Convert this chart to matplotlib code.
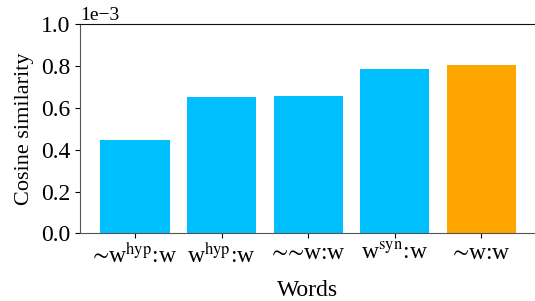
import matplotlib
matplotlib.use('Agg')
import matplotlib.pyplot as plt
from matplotlib.ticker import MultipleLocator

# 数据
words = ['$∼$w$^{\\mathrm{hyp}}$:w', 'w$^{\\mathrm{hyp}}$:w', '$∼∼$w:w',
         'w$^{\\mathrm{syn}}$:w', '$∼$w:w']
similarity = [0.446e-3, 0.652e-3, 0.657e-3, 0.786e-3, 0.804e-3]
colors = ['#00BFFF', '#00BFFF', '#00BFFF', '#00BFFF', '#FFA500']

plt.rcParams['font.family'] = ['Liberation Serif', 'STIXGeneral', 'DejaVu Serif']
plt.rcParams['mathtext.fontset'] = 'stix'

fig = plt.figure(figsize=(5.35, 3.01), dpi=100)
ax = fig.add_axes([80 / 535, 1 - 233.3 / 301, 1 - 80 / 535, (233.3 - 24.4) / 301])

x = list(range(len(words)))
ax.bar(x, similarity, width=0.8, color=colors)

ax.set_xlim(-0.635, 4.62)
ax.set_ylim(0, 1e-3)
ax.yaxis.set_major_locator(MultipleLocator(0.2e-3))
ax.ticklabel_format(axis='y', style='sci', scilimits=(-3, -3))
ax.set_xticks(x)
ax.set_xticklabels(words, fontsize=17)
ax.tick_params(axis='y', labelsize=17)
ax.yaxis.get_offset_text().set_fontsize(14)
ax.set_xlabel('Words', fontsize=17, labelpad=9)
ax.set_ylabel('Cosine similarity', fontsize=16, labelpad=5)

ax.spines['right'].set_visible(False)
ax.spines['left'].set_color('#555555')
ax.spines['bottom'].set_color('#555555')
ax.spines['top'].set_color('#111111')

plt.savefig('out.png', dpi=100)
